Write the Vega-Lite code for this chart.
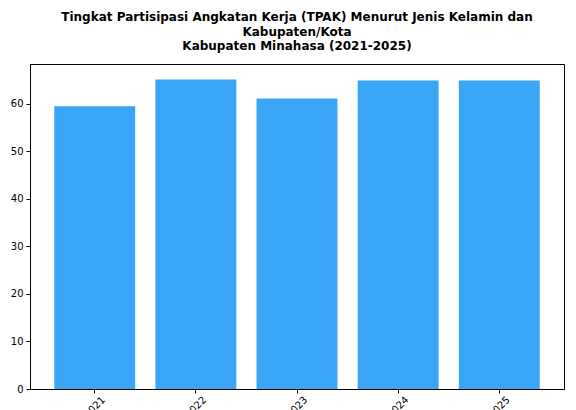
{
  "$schema": "https://vega.github.io/schema/vega-lite/v6.json",
  "width": 534,
  "height": 325,
  "autosize": {"type": "none"},
  "padding": {"left": 30, "top": 64, "right": 12, "bottom": 21},
  "background": "white",
  "title": {
    "text": ["Tingkat Partisipasi Angkatan Kerja (TPAK) Menurut Jenis Kelamin dan", "Kabupaten/Kota", "Kabupaten Minahasa (2021-2025)"],
    "font": "DejaVu Sans",
    "fontSize": 12,
    "fontWeight": "bold",
    "color": "black",
    "lineHeight": 14.5,
    "anchor": "middle",
    "offset": 11
  },
  "data": {
    "values": [
      {"tahun": "2021", "tpak": 59.45},
      {"tahun": "2022", "tpak": 65.1},
      {"tahun": "2023", "tpak": 61.1},
      {"tahun": "2024", "tpak": 64.9},
      {"tahun": "2025", "tpak": 64.9}
    ]
  },
  "mark": {"type": "bar", "color": "#3ba5f5"},
  "encoding": {
    "x": {
      "field": "tahun",
      "type": "ordinal",
      "scale": {"paddingInner": 0.2, "paddingOuter": 0.24},
      "axis": {
        "title": null,
        "labelAngle": -45,
        "labelAlign": "center",
        "labelBaseline": "middle",
        "labelPadding": 14,
        "labelFont": "DejaVu Sans",
        "labelFontSize": 10,
        "labelColor": "black",
        "tickSize": 4,
        "tickColor": "black",
        "domainColor": "black",
        "grid": false
      }
    },
    "y": {
      "field": "tpak",
      "type": "quantitative",
      "scale": {"domain": [0, 68.35], "nice": false, "zero": true},
      "axis": {
        "title": null,
        "values": [0, 10, 20, 30, 40, 50, 60],
        "labelFont": "DejaVu Sans",
        "labelFontSize": 10,
        "labelColor": "black",
        "labelPadding": 3,
        "tickSize": 4,
        "tickColor": "black",
        "domainColor": "black",
        "grid": false
      }
    }
  },
  "config": {
    "view": {"stroke": "black", "strokeWidth": 1}
  }
}
